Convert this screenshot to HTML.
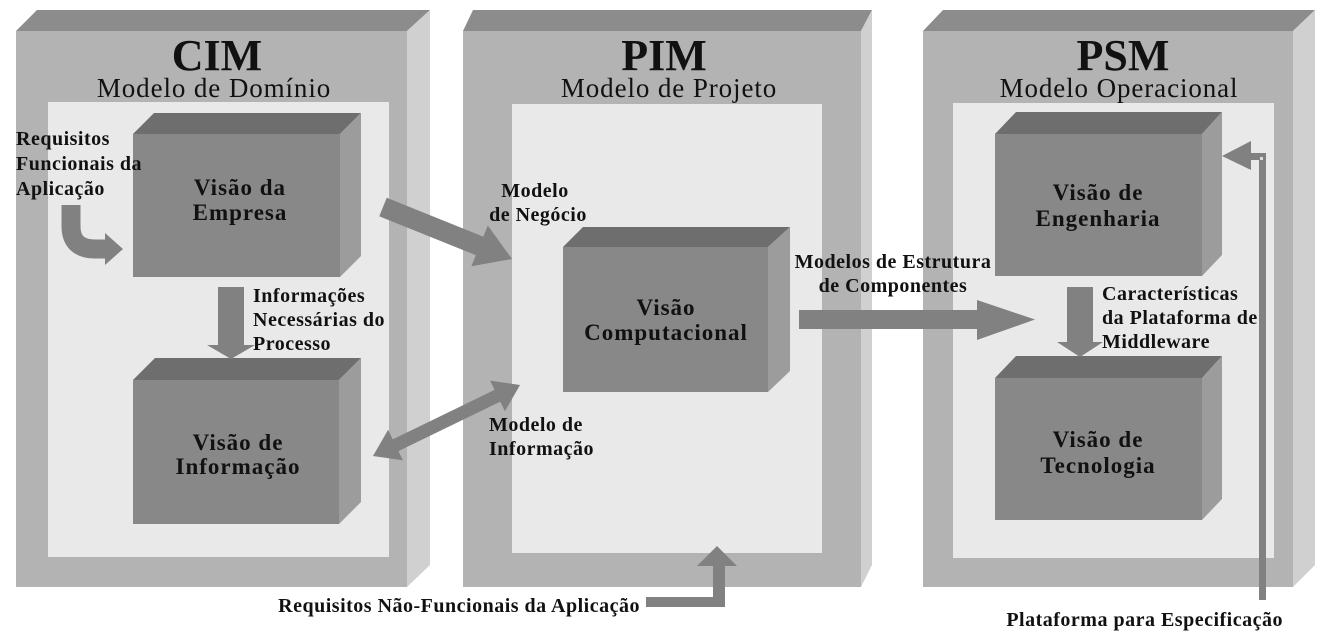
<!DOCTYPE html>
<html><head><meta charset="utf-8"><style>
html,body{margin:0;padding:0;background:#fff;}
svg{display:block;}
text{font-family:"Liberation Serif",serif;fill:#111;}
.b{font-weight:bold;}
.lb{font-weight:bold;font-size:20px;letter-spacing:0.5px;}
.bx{font-weight:bold;font-size:23px;letter-spacing:1px;}
.st{font-size:27px;letter-spacing:0.9px;}
</style></head><body>
<svg width="1322" height="633" viewBox="0 0 1322 633" xmlns="http://www.w3.org/2000/svg">
<g>
<rect x="16" y="31" width="391" height="556" fill="#b3b3b3"/>
<polygon points="16,31 37,10 430,10 407,31" fill="#8c8c8c"/>
<polygon points="407,31 430,10 430,565 407,587" fill="#d0d0d0"/>
<rect x="48" y="102" width="341" height="455" fill="#e9e9e9"/>

<rect x="463" y="31" width="398" height="556" fill="#b3b3b3"/>
<polygon points="463,31 473,10 872,10 861,31" fill="#8c8c8c"/>
<polygon points="861,31 872,10 872,565 861,587" fill="#d0d0d0"/>
<rect x="512" y="104" width="310" height="449" fill="#e9e9e9"/>

<rect x="923" y="31" width="370" height="556" fill="#b3b3b3"/>
<polygon points="923,31 943,10 1315,10 1293,31" fill="#8c8c8c"/>
<polygon points="1293,31 1315,10 1315,565 1293,587" fill="#d0d0d0"/>
<rect x="953" y="103" width="321" height="455" fill="#e9e9e9"/>
</g>

<text class="b" x="217" y="70" font-size="44" text-anchor="middle">CIM</text>
<text class="st" x="214" y="97" text-anchor="middle">Modelo de Domínio</text>
<text class="b" x="664" y="70" font-size="44" text-anchor="middle">PIM</text>
<text class="st" x="669" y="97" text-anchor="middle">Modelo de Projeto</text>
<text class="b" x="1123" y="70" font-size="44" text-anchor="middle">PSM</text>
<text class="st" x="1119" y="97" text-anchor="middle">Modelo Operacional</text>

<g>
<rect x="133" y="134" width="207" height="143" fill="#888"/>
<polygon points="133,134 154,113 361,113 340,134" fill="#6e6e6e"/>
<polygon points="340,134 361,113 361,256 340,277" fill="#9c9c9c"/>

<rect x="133" y="380" width="206" height="144" fill="#888"/>
<polygon points="133,380 155,358 361,358 339,380" fill="#6e6e6e"/>
<polygon points="339,380 361,358 361,502 339,524" fill="#9c9c9c"/>

<rect x="563" y="247" width="205" height="145" fill="#888"/>
<polygon points="563,247 583,227 790,227 768,247" fill="#6e6e6e"/>
<polygon points="768,247 790,227 790,371 768,392" fill="#9c9c9c"/>

<rect x="995" y="134" width="207" height="142" fill="#888"/>
<polygon points="995,134 1016,112 1222,112 1202,134" fill="#6e6e6e"/>
<polygon points="1202,134 1222,112 1222,255 1202,276" fill="#9c9c9c"/>

<rect x="995" y="378" width="207" height="142" fill="#888"/>
<polygon points="995,378 1016,356 1222,356 1202,378" fill="#6e6e6e"/>
<polygon points="1202,378 1222,356 1222,499 1202,520" fill="#9c9c9c"/>
</g>

<text class="bx" x="240" y="195" text-anchor="middle">Visão da</text>
<text class="bx" x="240" y="220" text-anchor="middle">Empresa</text>
<text class="bx" x="238" y="450" text-anchor="middle">Visão de</text>
<text class="bx" x="238" y="474" text-anchor="middle">Informação</text>
<text class="bx" x="666" y="315" text-anchor="middle">Visão</text>
<text class="bx" x="666" y="340" text-anchor="middle">Computacional</text>
<text class="bx" x="1098" y="200" text-anchor="middle">Visão de</text>
<text class="bx" x="1098" y="226" text-anchor="middle">Engenharia</text>
<text class="bx" x="1098" y="447" text-anchor="middle">Visão de</text>
<text class="bx" x="1098" y="473" text-anchor="middle">Tecnologia</text>

<g fill="#818181" stroke="none">
<path d="M71 205 V226 Q71 249 95 249 H107" fill="none" stroke="#818181" stroke-width="19"/>
<polygon points="105,233 123,249 105,265"/>
<rect x="218" y="287" width="26" height="58"/>
<polygon points="207,345 255,345 231,359"/>
<line x1="383" y1="207" x2="481" y2="246.5" stroke="#818181" stroke-width="20"/>
<polygon points="471.4,266.3 512,259 487.8,225.5"/>
<line x1="394" y1="446" x2="499" y2="395" stroke="#818181" stroke-width="13"/>
<polygon points="504.9,411.2 520,385 490.1,380.6"/>
<polygon points="402.9,460.4 373,456 388.1,429.8"/>
<rect x="799" y="310" width="179" height="19"/>
<polygon points="977,300 1035,319.5 977,340"/>
<rect x="1067" y="287" width="26" height="55"/>
<polygon points="1057,342 1103,342 1080,357"/>
<rect x="646" y="597" width="79" height="10"/>
<rect x="713" y="564" width="12" height="43"/>
<polygon points="697,566 737,566 717,546"/>
<rect x="1259" y="155" width="7" height="445"/>
<rect x="1249" y="153" width="17" height="7"/>
<polygon points="1251,141 1222,156 1251,170"/>
<rect x="1260" y="157" width="3" height="3" fill="#ddd"/>
</g>

<text class="lb" x="16" y="145">Requisitos</text>
<text class="lb" x="16" y="170">Funcionais da</text>
<text class="lb" x="16" y="195">Aplicação</text>

<text class="lb" x="253" y="302">Informações</text>
<text class="lb" x="253" y="326">Necessárias do</text>
<text class="lb" x="253" y="350">Processo</text>

<text class="lb" x="535" y="197" text-anchor="middle">Modelo</text>
<text class="lb" x="538" y="221" text-anchor="middle">de Negócio</text>

<text class="lb" x="489" y="431">Modelo de</text>
<text class="lb" x="489" y="455">Informação</text>

<text class="lb" x="893" y="268" text-anchor="middle">Modelos de Estrutura</text>
<text class="lb" x="893" y="292" text-anchor="middle">de Componentes</text>

<text class="lb" x="1102" y="300">Características</text>
<text class="lb" x="1102" y="324">da Plataforma de</text>
<text class="lb" x="1102" y="348">Middleware</text>

<text class="lb" x="640" y="612" text-anchor="end">Requisitos Não-Funcionais da Aplicação</text>
<text class="lb" x="1283" y="626" text-anchor="end">Plataforma para Especificação</text>
</svg>
</body></html>
